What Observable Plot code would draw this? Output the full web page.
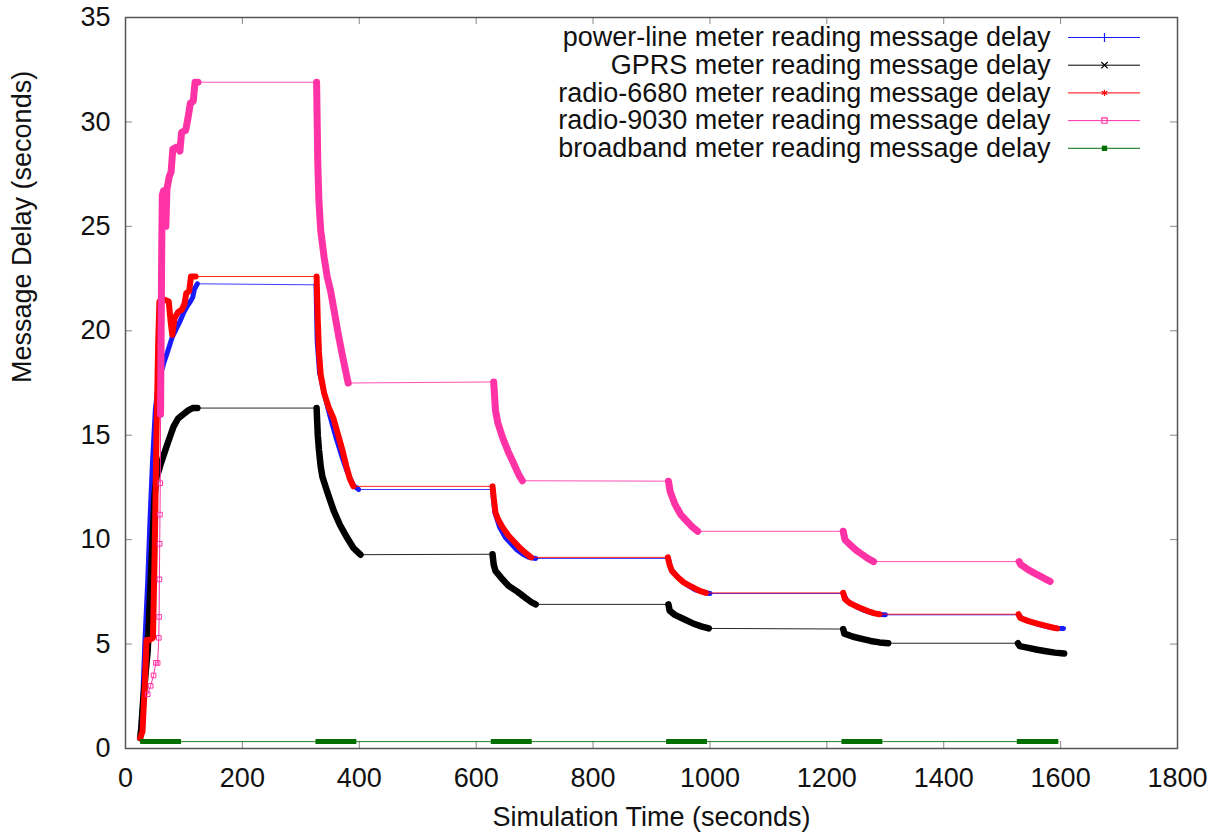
<!DOCTYPE html>
<html><head><meta charset="utf-8">
<script src="https://cdn.jsdelivr.net/npm/d3@7"></script>
<script src="https://cdn.jsdelivr.net/npm/@observablehq/plot@0.6"></script>
<style>
html,body{margin:0;padding:0;background:#fff;}
#chart svg{display:block;}
</style></head><body><div id="chart"></div>
<script>
// ---------- data ----------
const seriesNames = [
  "power-line meter reading message delay",
  "GPRS meter reading message delay",
  "radio-6680 meter reading message delay",
  "radio-9030 meter reading message delay",
  "broadband meter reading message delay"
];
const xTicks = [0, 200, 400, 600, 800, 1000, 1200, 1400, 1600, 1800];
const yTicks = [0, 5, 10, 15, 20, 25, 30, 35];

// power-line (blue)
const powerLineT = [25,29,33,38,42,46,51,55,60,66,72,80,87,94,100,106,111,115,118,123,
  326,328,332,340,350,360,370,380,390,399,
  628,632,640,650,660,670,680,690,702,
  929,933,945,960,975,990,1000,
  1228,1235,1250,1265,1280,1292,1300,
  1528,1535,1550,1565,1580,1595,1605];
const powerLineV = [0.5,2,5,8,11,13.6,16.2,17.2,17.9,18.5,19.0,19.7,20.1,20.5,20.9,21.2,21.4,21.6,22.0,22.25,
  22.2,19.5,18.0,17.0,15.9,14.9,14.0,13.2,12.6,12.4,
  12.4,11.3,10.6,10.1,9.8,9.5,9.3,9.15,9.1,
  9.1,8.6,8.2,7.85,7.6,7.47,7.42,
  7.42,7.05,6.8,6.6,6.47,6.42,6.4,
  6.4,6.2,6.05,5.92,5.82,5.76,5.75];

// GPRS (black)
const gprsT = [25,27,30,34,38,43,48,50,53,57,60,66,72,77,82,90,99,108,115,123,
  327,329,331,334,337,345,356,367,379,390,402,
  628,630,633,637,645,655,671,685,695,702,
  929,931,940,955,970,985,998,
  1228,1230,1245,1260,1275,1290,1305,
  1527,1530,1545,1560,1575,1590,1606];
const gprsV = [0.5,0.95,2.2,3.5,4.7,7.9,11.1,12.2,13.0,13.3,13.6,14.1,14.6,15.0,15.4,15.8,16.0,16.2,16.3,16.3,
  16.3,15.0,14.3,13.5,13.0,12.3,11.4,10.7,10.1,9.6,9.28,
  9.3,8.8,8.5,8.37,8.1,7.8,7.5,7.2,7.0,6.9,
  6.9,6.6,6.4,6.2,6.0,5.85,5.75,
  5.72,5.5,5.35,5.25,5.15,5.08,5.04,
  5.04,4.9,4.82,4.73,4.66,4.59,4.55];

// radio-6680 (red)
const radio6680T = [25,29,33,36,42,47,50,53,56,58,66,74,77,80,84,90,96,101,104,109,112,120,
  327,329,331,334,340,348,356,364,371,378,384,390,
  628,630,633,637,645,655,665,675,685,694,
  928,931,935,945,955,965,975,985,993,
  1228,1231,1240,1255,1270,1282,1290,
  1528,1531,1545,1560,1575,1588,1594];
const radio6680V = [0.5,0.8,3.0,5.2,5.2,5.3,9.5,15.0,19.5,21.4,21.5,21.4,20.5,19.8,20.6,20.9,21.0,21.3,21.8,21.9,22.6,22.6,
  22.6,20.5,19.0,17.9,17.0,16.3,15.8,15.0,14.3,13.5,12.9,12.55,
  12.55,12.0,11.3,11.0,10.6,10.2,9.9,9.6,9.35,9.15,
  9.15,8.8,8.5,8.2,7.95,7.8,7.65,7.52,7.45,
  7.45,7.15,6.95,6.75,6.58,6.47,6.43,
  6.43,6.25,6.1,5.98,5.87,5.78,5.75];

// radio-9030 (pink): sparse early rise (hollow squares) then dense part
const radio9030RiseT = [38,43,48,52,55,57,57.5,58,58.5,59,59.5,60];
const radio9030RiseV = [2.6,3.0,3.5,4.1,4.1,5.3,6.3,8.1,9.8,11.2,12.7,16.0];
const radio9030T = [60,61,62,63,65,67,69,71,75,78,81,88,93,96,103,107,111,116,119,124,
  327,329,331,334,340,345,351,358,365,372,381,
  630,633,637,645,655,665,673,679,
  929,932,940,950,960,970,979,
  1228,1231,1240,1250,1260,1270,1280,
  1529,1532,1545,1555,1565,1575,1582];
const radio9030V = [16.0,20.0,24.0,26.5,26.7,25.0,25.0,26.8,27.4,27.6,28.7,28.8,28.6,29.5,29.6,30.2,30.9,31.0,31.9,31.9,
  31.9,28.0,26.2,24.8,23.5,22.6,21.9,20.8,19.7,18.7,17.5,
  17.55,16.2,15.6,14.9,14.2,13.6,13.1,12.82,
  12.8,12.3,11.7,11.2,10.9,10.6,10.4,
  10.4,10.0,9.75,9.5,9.3,9.1,8.95,
  8.95,8.8,8.55,8.4,8.25,8.1,8.0];

// broadband (green): burst start / end times
const broadbandT = [25,95,325,395,625,695,925,995,1225,1295,1525,1596];
const broadbandV = [0.33,0.33,0.33,0.33,0.33,0.33,0.33,0.33,0.33,0.33,0.33,0.33];

// ---------- styles ----------
const colors = ["#1a1aff", "#000000", "#ff0000", "#ff33a6", "#006e00"];
const thick = [5, 6.5, 6, 7, 5];
const symbols = ["plus", "times", "asterisk", "square", "square"];

// ---------- layout ----------
const W = 1221, H = 834, mL = 125, mR = 44, mT = 17, mB = 86;
const plotW = W - mL - mR, plotH = H - mT - mB;
const xMax = 1800, yMax = 35;
const xPerPx = xMax / plotW, yPerPx = yMax / plotH;
const FONT = 27;

function build(T, V) {
  let burst = 0;
  return T.map((t, i) => {
    if (i > 0 && t - T[i - 1] > 100) burst++;
    return {t, v: V[i], burst};
  });
}
const series = [
  build(powerLineT, powerLineV),
  build(gprsT, gprsV),
  build(radio6680T, radio6680V),
  build(radio9030T, radio9030V),
  build(broadbandT, broadbandV)
];
const pinkRise = build(radio9030RiseT, radio9030RiseV);

const marks = [];
// inward ticks on all four sides (gnuplot style)
const tl = 7;
marks.push(Plot.ruleX(xTicks, {x: d => d, y1: 0, y2: tl * yPerPx, stroke: "#888", strokeWidth: 1}));
marks.push(Plot.ruleX(xTicks, {x: d => d, y1: yMax - tl * yPerPx, y2: yMax, stroke: "#888", strokeWidth: 1}));
marks.push(Plot.ruleY(yTicks, {y: d => d, x1: 0, x2: tl * xPerPx, stroke: "#888", strokeWidth: 1}));
marks.push(Plot.ruleY(yTicks, {y: d => d, x1: xMax - tl * xPerPx, x2: xMax, stroke: "#888", strokeWidth: 1}));

series.forEach((pts, k) => {
  marks.push(Plot.line(pts, {x: "t", y: "v", stroke: colors[k], strokeWidth: 1, strokeOpacity: 0.85}));
  marks.push(Plot.line(pts, {x: "t", y: "v", z: "burst", stroke: colors[k], strokeWidth: thick[k],
    strokeLinejoin: "round", strokeLinecap: k === 4 ? "butt" : "round"}));
  if (k === 3) {
    marks.push(Plot.line(pinkRise, {x: "t", y: "v", stroke: colors[3], strokeWidth: 1}));
    marks.push(Plot.dot(pinkRise, {x: "t", y: "v", symbol: "square", r: 2.6, stroke: colors[3], fill: "none", strokeWidth: 1}));
  }
});

// legend (inside the plot, top right)
const legTextX = (1050 - mL) * xPerPx;
const legX1 = (1068 - mL) * xPerPx, legX2 = (1140 - mL) * xPerPx, legXm = (1104 - mL) * xPerPx;
seriesNames.forEach((name, i) => {
  const y = yMax - (20 + 27.7 * i) * yPerPx;
  marks.push(Plot.text([name], {x: legTextX, y, text: d => d, textAnchor: "end", lineAnchor: "middle", fontSize: FONT, fill: "#111"}));
  marks.push(Plot.ruleY([y], {x1: legX1, x2: legX2, stroke: colors[i], strokeWidth: 1}));
  marks.push(Plot.dot([y], {x: legXm, y: d => d, symbol: symbols[i], r: 3,
    stroke: i === 4 ? "none" : colors[i], fill: i === 4 ? colors[i] : "none", strokeWidth: 1.2}));
});

// axes
marks.push(Plot.axisX({ticks: xTicks, tickSize: 0, tickPadding: 19, tickFormat: d3.format("d"), label: null, fontSize: FONT}));
marks.push(Plot.axisY({ticks: yTicks, tickSize: 0, tickPadding: 15, tickFormat: d3.format("d"), label: null, fontSize: FONT}));
marks.push(Plot.text(["Simulation Time (seconds)"], {frameAnchor: "bottom", dy: 69, text: d => d, lineAnchor: "middle", fontSize: FONT, fill: "#111"}));
marks.push(Plot.text(["Message Delay (seconds)"], {frameAnchor: "left", dx: -103, rotate: -90, text: d => d, lineAnchor: "middle", fontSize: FONT, fill: "#111"}));
marks.push(Plot.frame({stroke: "#555", strokeWidth: 1.5}));

const chart = Plot.plot({
  width: W, height: H,
  marginLeft: mL, marginRight: mR, marginTop: mT, marginBottom: mB,
  style: {fontFamily: "'Liberation Sans', Arial, sans-serif", fontSize: FONT + "px", color: "#111", background: "#fff"},
  x: {domain: [0, xMax]},
  y: {domain: [0, yMax]},
  marks
});
document.getElementById("chart").append(chart);
</script>
</body></html>
